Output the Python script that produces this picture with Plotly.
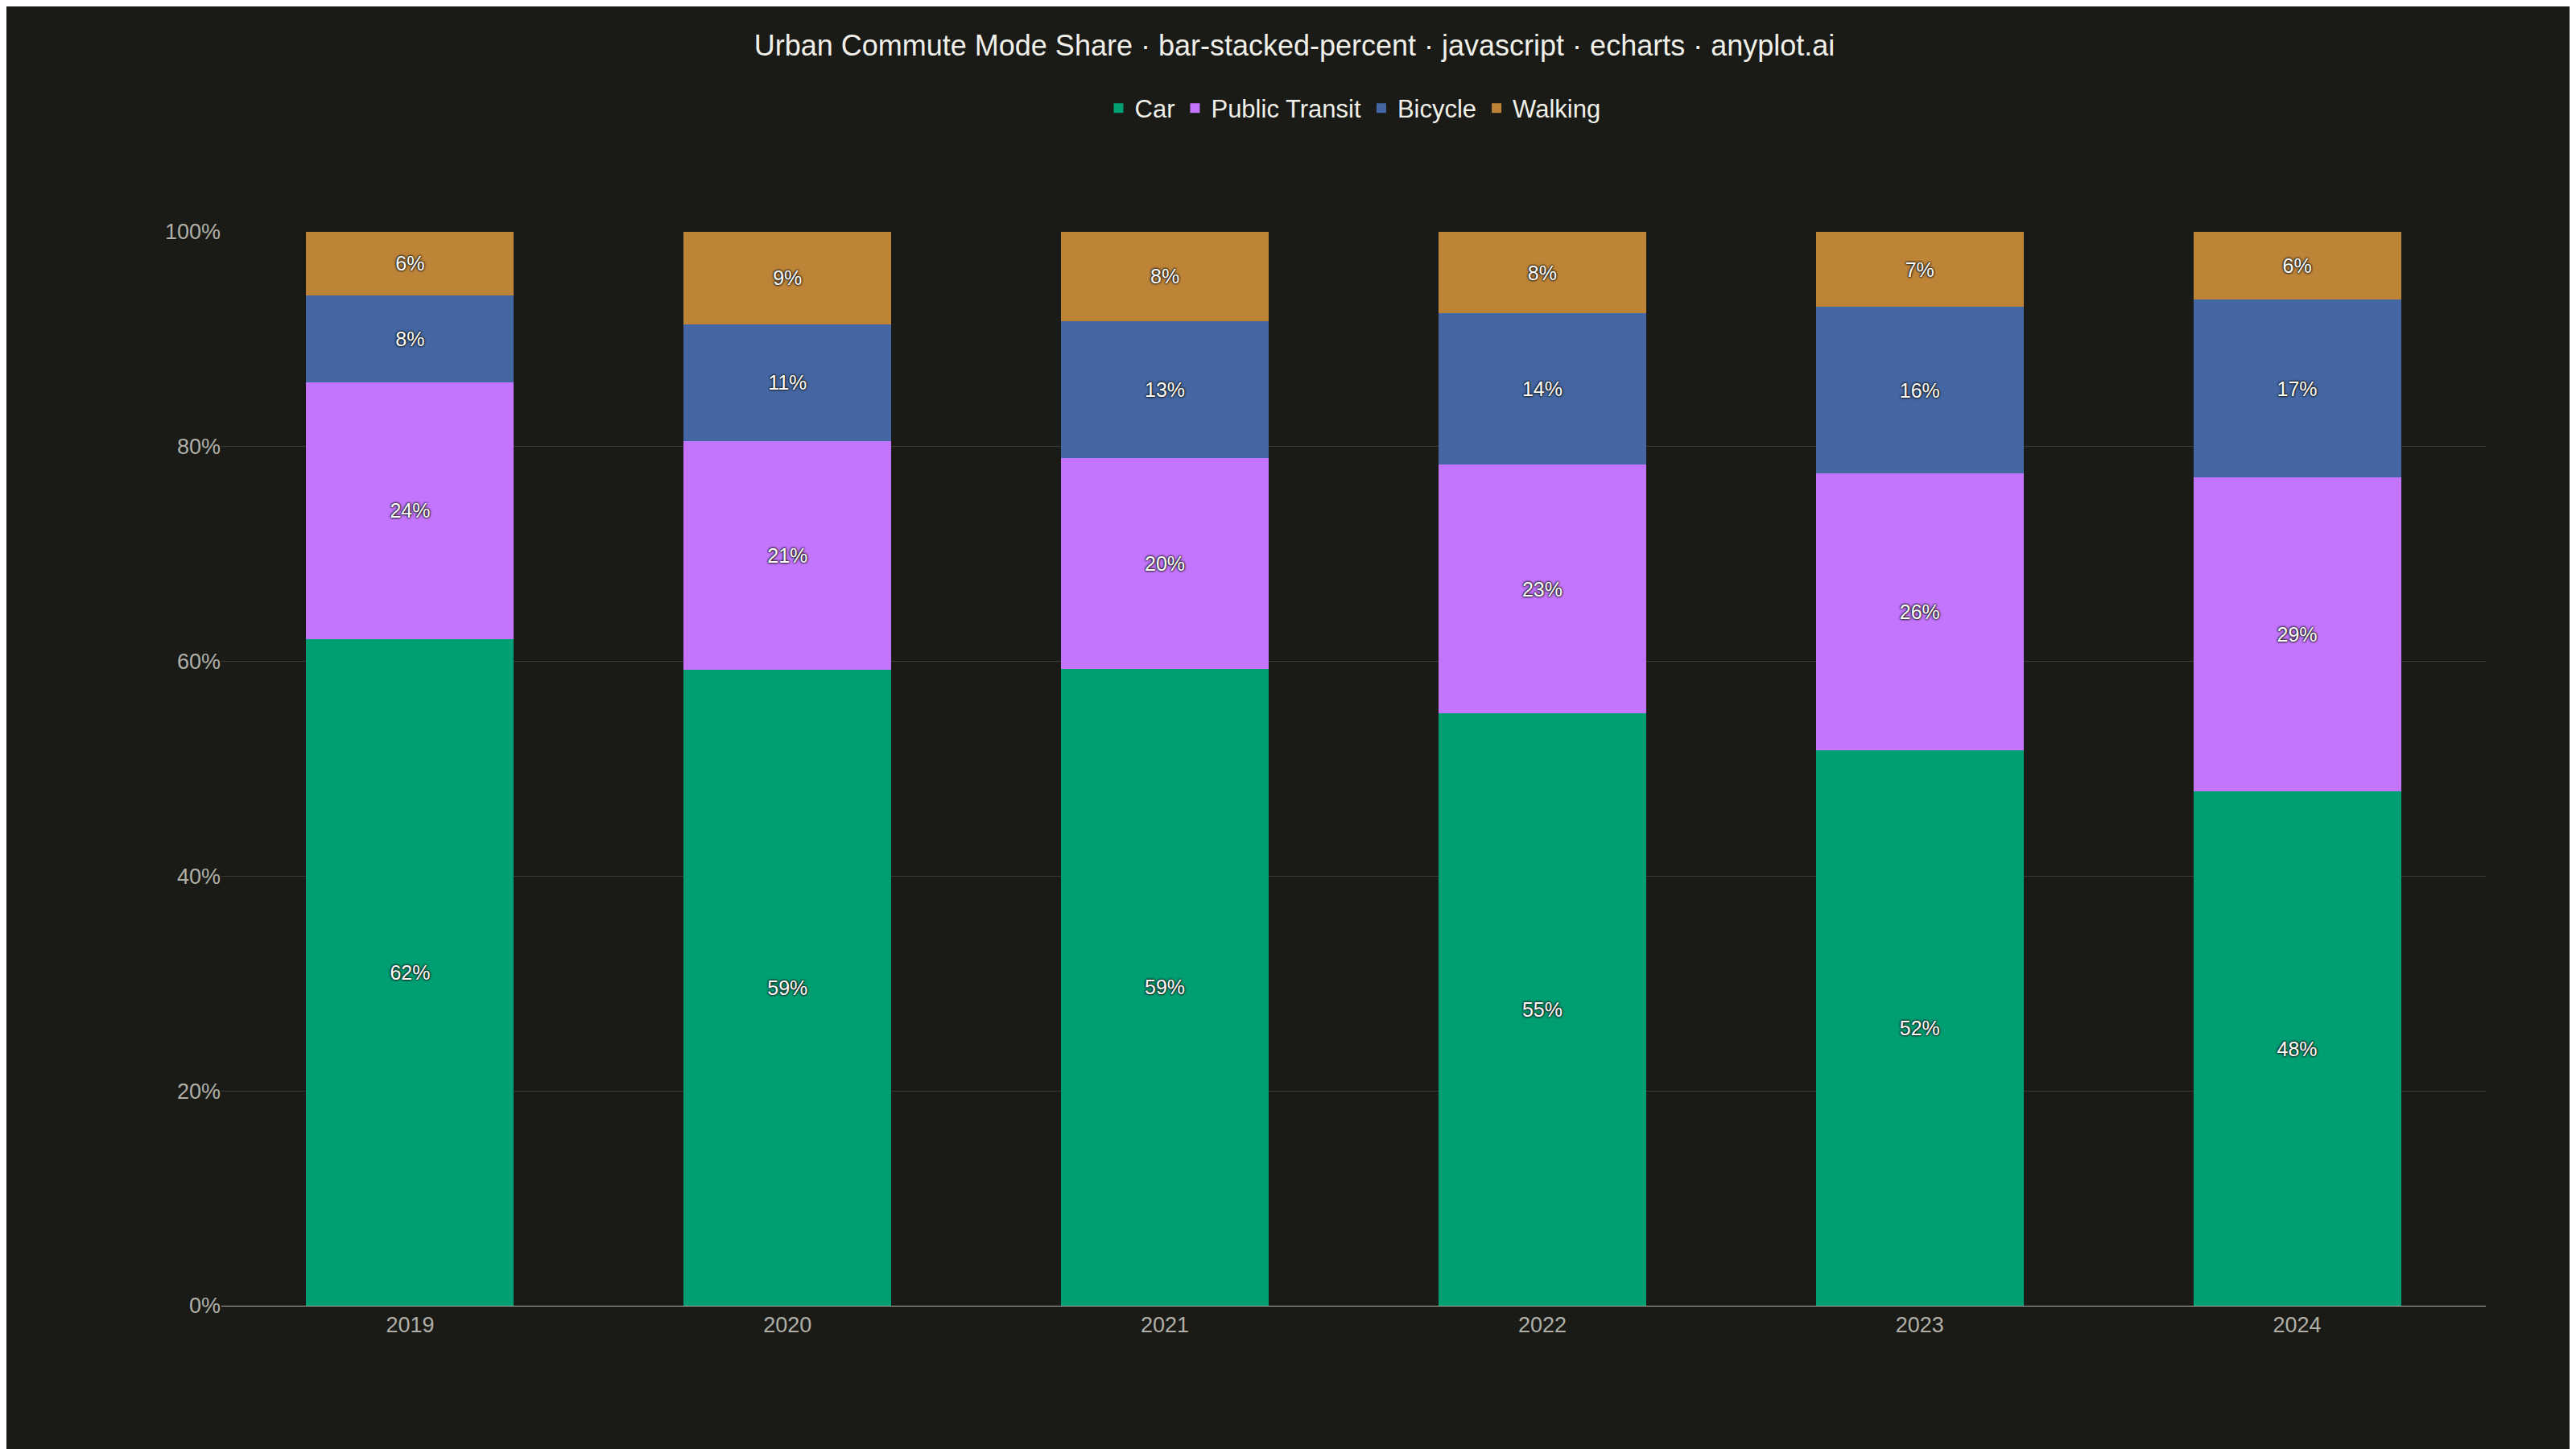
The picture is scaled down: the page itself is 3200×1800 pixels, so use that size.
import plotly.graph_objects as go

years = ["2019", "2020", "2021", "2022", "2023", "2024"]
car = [62.1, 59.2, 59.3, 55.2, 51.7, 47.9]
transit = [23.9, 21.3, 19.6, 23.1, 25.8, 29.2]
bicycle = [8.1, 10.9, 12.8, 14.1, 15.5, 16.6]
walking = [6.0, 8.7, 8.3, 7.6, 7.0, 6.3]

series = [("Car", car, "#009E73"), ("Public Transit", transit, "#C475FD"),
          ("Bicycle", bicycle, "#4467A4"), ("Walking", walking, "#BD8438")]

fig = go.Figure()
for name, vals, color in series:
    fig.add_trace(go.Bar(
        x=years, y=vals, name=name, marker_color=color, marker_line_width=0,
        text=[f"{round(v)}%" for v in vals], textposition="inside",
        insidetextanchor="middle", constraintext="none",
        textfont=dict(color="white", size=25, family="Liberation Sans",
                      shadow="0px 0px 3px #1a1a17, 0px 0px 3px #1a1a17, 0px 0px 2px #1a1a17"),
    ))

fig.update_layout(
    barmode="stack", bargap=0.45,
    width=3200, height=1800,
    paper_bgcolor="#1A1A17", plot_bgcolor="#1A1A17",
    font=dict(family="Liberation Sans", color="#B0B0A8", size=27),
    title=dict(text="Urban Commute Mode Share · bar-stacked-percent · javascript · echarts · anyplot.ai",
               x=0.5, y=0.98, xanchor="center", yanchor="top",
               font=dict(size=36, color="#F0EFE8")),
    legend=dict(orientation="h", x=0.5, xanchor="center", y=1.115, yanchor="middle",
                font=dict(size=31, color="#F0EFE8"), traceorder="normal"),
    margin=dict(l=267, r=120, t=280, b=186),
    xaxis=dict(showgrid=False, showline=True, linecolor="#B0B0A8", ticks="", tickfont=dict(size=27)),
    yaxis=dict(range=[0, 100], dtick=20, ticksuffix="%", gridcolor="#3A3A36",
               zeroline=False, tickfont=dict(size=27)),
)

fig.write_html("out.html")
